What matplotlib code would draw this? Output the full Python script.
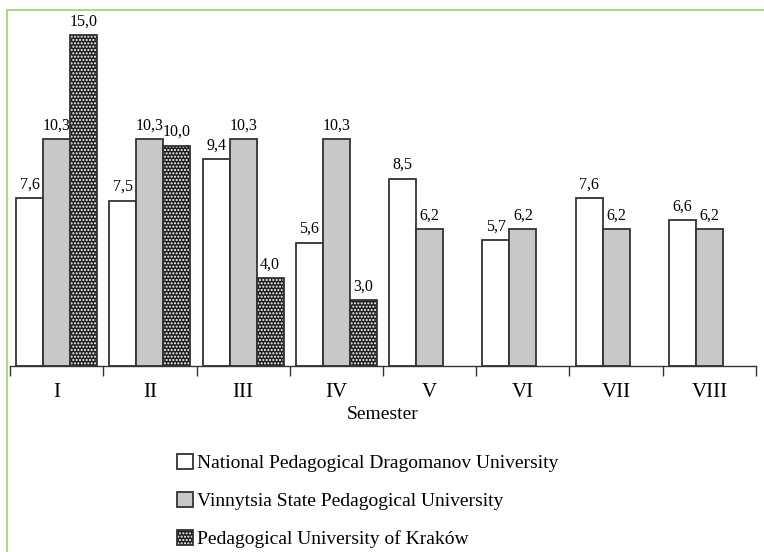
import numpy as np
import matplotlib.pyplot as plt
from matplotlib.patches import Rectangle
from matplotlib.legend_handler import HandlerTuple

plt.rcParams["font.family"] = ["Liberation Serif", "DejaVu Serif"]

semesters = ["I", "II", "III", "IV", "V", "VI", "VII", "VIII"]
dragomanov = [7.6, 7.5, 9.4, 5.6, 8.5, 5.7, 7.6, 6.6]
vinnytsia = [10.3, 10.3, 10.3, 10.3, 6.2, 6.2, 6.2, 6.2]
krakow = [15.0, 10.0, 4.0, 3.0, np.nan, np.nan, np.nan, np.nan]

names = [
    "National Pedagogical Dragomanov University",
    "Vinnytsia State Pedagogical University",
    "Pedagogical University of Kraków",
]

edge = "#333333"
fig = plt.figure(figsize=(7.64, 5.52), dpi=100)
ax = fig.add_axes([0.0131, 0.337, 0.9764, 0.639])

x = np.arange(len(semesters))
w = 0.29

b1 = ax.bar(x - w, dragomanov, w, color="white", edgecolor=edge, linewidth=1.3)
b2 = ax.bar(x, vinnytsia, w, color="#c8c8c8", edgecolor=edge, linewidth=1.3)
# hatched bars: dark fill with white dots, then a dark outline on top
b3h = ax.bar(x + w, krakow, w, color="#1e1e1e", hatch=".....", edgecolor="white", linewidth=0)
b3 = ax.bar(x + w, krakow, w, fill=False, edgecolor=edge, linewidth=1.3)

def fmt(vals):
    return ["" if np.isnan(v) else f"{v:.1f}".replace(".", ",") for v in vals]

ax.bar_label(b1, labels=fmt(dragomanov), padding=4, fontsize=11.5)
ax.bar_label(b2, labels=fmt(vinnytsia), padding=4, fontsize=11.5)
ax.bar_label(b3, labels=fmt(np.array(krakow)), padding=4, fontsize=11.5)

ax.set_xlim(-0.5, len(semesters) - 0.5)
ax.set_ylim(0, 16)
ax.set_yticks([])
for s in ["top", "right", "left"]:
    ax.spines[s].set_visible(False)
ax.spines["bottom"].set_color(edge)
ax.spines["bottom"].set_linewidth(1.0)

ax.set_xticks(x)
ax.set_xticklabels(semesters, fontsize=15)
ax.tick_params(axis="x", which="major", length=0, pad=12)
ax.set_xticks(np.arange(-0.5, len(semesters)), minor=True)
ax.tick_params(axis="x", which="minor", length=7, color=edge, width=1.0)
ax.set_xlabel("Semester", fontsize=14, labelpad=3)

leg = fig.legend(
    [b1[0], b2[0], (b3h[0], b3[0])],
    names,
    handler_map={tuple: HandlerTuple(ndivide=1, pad=0)},
    loc="upper left",
    bbox_to_anchor=(0.232, 0.178),
    frameon=False,
    fontsize=14,
    handlelength=0.8,
    handleheight=0.8,
    handletextpad=0.2,
    labelspacing=1.02,
    borderaxespad=0,
    borderpad=0,
)

# thin green frame around the figure
fig.patches.append(Rectangle((0.0098, -0.1), 1.2, 1.082, transform=fig.transFigure,
                             fill=False, edgecolor="#a6d98e", linewidth=1.5))

fig.savefig("out.png", dpi=100)
